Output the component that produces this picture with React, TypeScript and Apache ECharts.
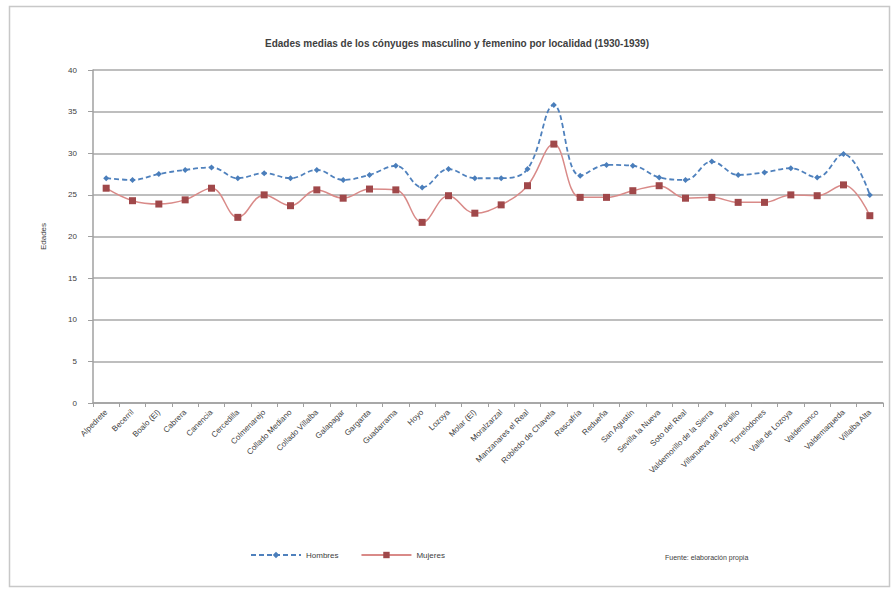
import React, { useEffect, useRef } from "react";
import * as echarts from "echarts";

const TITLE = "Edades medias de los cónyuges masculino y femenino por localidad (1930-1939)";
const Y_NAME = "Edades";
const SOURCE = "Fuente: elaboración propia";
const SERIES_NAMES = ["Hombres", "Mujeres"];

const localidades = [
  "Alpedrete", "Becerril", "Boalo (El)", "Cabrera", "Canencia", "Cercedilla",
  "Colmenarejo", "Collado Mediano", "Collado Villalba", "Galapagar", "Garganta",
  "Guadarrama", "Hoyo", "Lozoya", "Molar (El)", "Moralzarzal", "Manzanares el Real",
  "Robledo de Chavela", "Rascafría", "Redueña", "San Agustín", "Sevilla la Nueva",
  "Soto del Real", "Valdemorillo de la Sierra", "Villanueva del Pardillo", "Torrelodones",
  "Valle de Lozoya", "Valdemanco", "Valdemaqueda", "Villalba Alta",
];

const hombres = [
  27.0, 26.8, 27.5, 28.0, 28.3, 27.0, 27.6, 27.0, 28.0, 26.8,
  27.4, 28.5, 25.9, 28.1, 27.0, 27.0, 28.1, 35.8, 27.3, 28.6,
  28.5, 27.1, 26.8, 29.0, 27.4, 27.7, 28.2, 27.1, 29.9, 25.0,
];

const mujeres = [
  25.8, 24.3, 23.9, 24.4, 25.8, 22.3, 25.0, 23.7, 25.6, 24.6,
  25.7, 25.6, 21.7, 24.9, 22.8, 23.8, 26.1, 31.1, 24.7, 24.7,
  25.5, 26.1, 24.6, 24.7, 24.1, 24.1, 25.0, 24.9, 26.2, 22.5,
];

export default function App() {
  const ref = useRef<HTMLDivElement>(null);
  useEffect(() => {
    if (!ref.current) return;
    const chart = echarts.init(ref.current, null, { renderer: "svg" });
    const font = "Liberation Sans, Arial, sans-serif";
    chart.setOption({
      animation: false,
      backgroundColor: "#ffffff",
      textStyle: { fontFamily: font },
      title: {
        text: TITLE,
        left: 452,
        top: 33,
        textAlign: "center",
        textStyle: { fontSize: 10, fontWeight: "bold", color: "#404040", fontFamily: font },
      },
      graphic: [
        {
          type: "rect",
          shape: { x: 9.5, y: 6.5, width: 880, height: 580 },
          style: { fill: "none", stroke: "#c8c8c8", lineWidth: 1.5 },
          silent: true,
        },
        {
          type: "text",
          left: 665,
          top: 554,
          style: { text: SOURCE, fontSize: 7, fill: "#404040", fontFamily: font },
        },
      ],
      legend: {
        left: 245,
        top: 546,
        itemWidth: 50,
        itemHeight: 8,
        itemGap: 22,
        textStyle: { fontSize: 8, color: "#404040", fontFamily: font },
        data: SERIES_NAMES,
      },
      grid: { left: 93, right: 11, top: 70, bottom: 189 },
      xAxis: {
        type: "category",
        data: localidades,
        boundaryGap: true,
        axisLine: { lineStyle: { color: "#a0a0a0", width: 1.5 } },
        axisTick: { show: true, length: 4, lineStyle: { color: "#a0a0a0" } },
        axisLabel: { rotate: 45, fontSize: 8, color: "#404040", interval: 0, margin: 8 },
      },
      yAxis: {
        type: "value",
        min: 0,
        max: 40,
        interval: 5,
        name: Y_NAME,
        nameLocation: "middle",
        nameGap: 46,
        nameRotate: 90,
        nameTextStyle: { fontSize: 8, color: "#404040" },
        axisLine: { show: true, lineStyle: { color: "#a0a0a0", width: 1.5 } },
        axisTick: { show: true, length: 5, lineStyle: { color: "#a0a0a0" } },
        axisLabel: { fontSize: 8, color: "#404040", margin: 16 },
        splitLine: { lineStyle: { color: "#a8a8a8", width: 1.5 } },
      },
      series: [
        {
          name: SERIES_NAMES[0],
          type: "line",
          data: hombres,
          smooth: 0.4,
          symbol: "diamond",
          symbolSize: 6,
          itemStyle: { color: "#4a7ebb" },
          lineStyle: { color: "#4f81bd", width: 1.8, type: [5, 3] },
        },
        {
          name: SERIES_NAMES[1],
          type: "line",
          data: mujeres,
          smooth: 0.4,
          symbol: "rect",
          symbolSize: 7,
          itemStyle: { color: "#a0484a" },
          lineStyle: { color: "#d98a88", width: 1.5 },
        },
      ],
    });
    return () => chart.dispose();
  }, []);
  return (
    <div
      ref={ref}
      style={{ position: "fixed", left: 0, top: 0, width: 894, height: 592 }}
    />
  );
}
